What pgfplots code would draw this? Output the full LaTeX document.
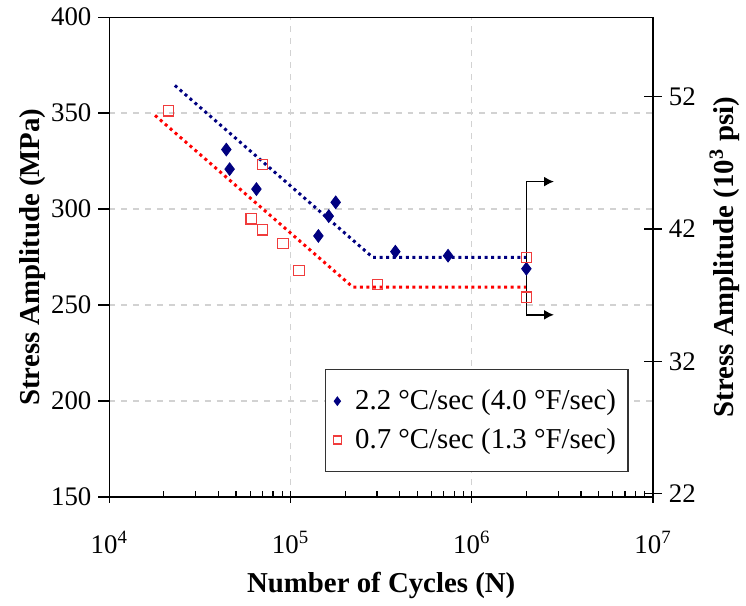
\documentclass[border=0pt]{standalone}
\usepackage{fontspec}
\setmainfont{Liberation Serif}
\usepackage{pgfplots}
\pgfplotsset{compat=1.18}
\usetikzlibrary{arrows.meta}

\definecolor{navy}{RGB}{0,0,128}
\definecolor{sqred}{RGB}{240,60,60}

\begin{document}
\begin{tikzpicture}
\begin{axis}[
  scale only axis,
  width=273.5pt, height=241.4pt,
  xmode=log,
  xmin=1e4, xmax=1e7,
  ymin=150, ymax=400,
  xtick={1e4,1e5,1e6,1e7},
  xticklabels={10\textsuperscript{4},10\textsuperscript{5},10\textsuperscript{6},10\textsuperscript{7}},
  ytick={150,200,...,400},
  xtick pos=bottom, ytick pos=left,
  tick align=outside,
  x tick label style={yshift=-8pt},
  minor x tick num=8,
  major tick length=5.5pt,
  minor tick length=3pt,
  tick style={black, line width=0.6pt},
  major x tick style={yshift=2.5pt},
  minor x tick style={yshift=3pt},
  grid=major,
  major grid style={gray!35, dashed, line width=0.6pt},
  /pgf/number format/assume math mode=true,
  ticklabel style={font=\fontsize{13.5}{16}\selectfont},
  xlabel={\textbf{Number of Cycles (N)}},
  ylabel={\textbf{Stress Amplitude (MPa)}},
  label style={font=\fontsize{14.5}{17}\selectfont},
  xlabel style={yshift=-2.5pt},
  ylabel style={yshift=-4pt},
  axis line style={black, line width=0.6pt},
  legend cell align=left,
  legend image post style={mark size=2pt},
  legend style={at={(0.955,0.052)}, anchor=south east, draw=black!80, line width=0.6pt,
    font=\fontsize{14.5}{17}\selectfont, inner xsep=4pt, inner ysep=8pt,
    row sep=4pt, /tikz/every odd column/.append style={column sep=5pt}},
]
% fitted curves
\addplot[navy, line width=1.5pt, dash pattern=on 1.5pt off 1.8pt, forget plot]
  coordinates {(23000,364.4) (284200,274.8) (2000000,274.8)};
\addplot[red, line width=1.5pt, dash pattern=on 1.5pt off 1.8pt, forget plot]
  coordinates {(17880,348.8) (220800,259.3) (2000000,259.3)};
% data
\addplot[only marks, mark=diamond*, mark size=3.2pt, navy, mark options={fill=navy}]
  coordinates {(44200,331.0) (46100,320.8) (64800,310.4) (177400,303.5) (162400,296.3)
  (142400,286.0) (378600,277.8) (739600,275.7) (2000000,268.9)};
\addlegendentry{2.2 °C/sec (4.0 °F/sec)}
\addplot[only marks, mark=square, mark size=2.6pt, sqred, mark options={line width=0.6pt}]
  coordinates {(21150,351.2) (70200,323.2) (60650,294.9) (70200,289.2) (90850,282.1)
  (111200,268.1) (301600,260.6) (2000000,274.8) (2000000,254.1)};
\addlegendentry{0.7 °C/sec (1.3 °F/sec)}
% run-out arrows
\addplot[black, line width=0.8pt, {Latex[length=5pt,width=5pt]}-{Latex[length=5pt,width=5pt]}, forget plot]
  coordinates {(2840000,314.3) (2000000,314.3) (2000000,244.9) (2840000,244.9)};
\end{axis}
\begin{axis}[
  scale only axis,
  width=273.5pt, height=241.4pt,
  xmode=log, xmin=1e4, xmax=1e7,
  hide x axis,
  axis y line*=right,
  ymin=21.756, ymax=58.015,
  ytick={22,32,42,52},
  tick align=center,
  major tick length=9pt,
  tick style={black, line width=0.6pt},
  axis line style={black, line width=0.6pt, -},
  /pgf/number format/assume math mode=true,
  ticklabel style={font=\fontsize{13.5}{16}\selectfont},
  ylabel={\textbf{Stress Amplitude (10\textsuperscript{3} psi)}},
  label style={font=\fontsize{14.5}{17}\selectfont},
]
\end{axis}
\path (current axis.south west) ++(-55pt,-51pt) (current axis.north east) ++(44.5pt,8.6pt);
\end{tikzpicture}
\end{document}
